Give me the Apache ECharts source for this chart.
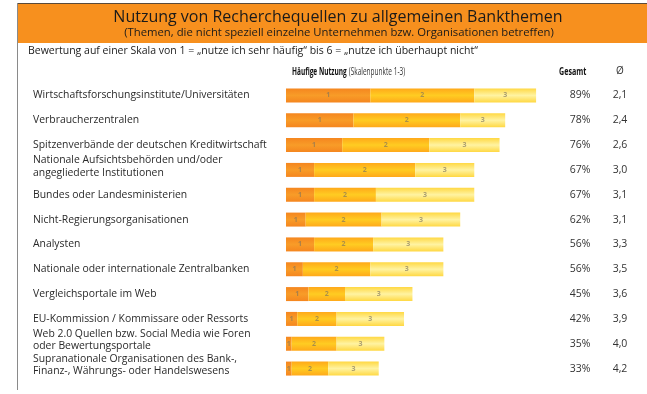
<!DOCTYPE html>
<html>
<head>
<meta charset="utf-8">
<script src="https://cdn.jsdelivr.net/npm/echarts@6/dist/echarts.min.js"></script>
<style>
  html, body { margin: 0; padding: 0; background: #fff; }
  #chart { width: 647px; height: 394px; }
</style>
</head>
<body>
<div id="chart"></div>
<script>
// Sources, top to bottom
const categories = [
  'Wirtschaftsforschungsinstitute/Universitäten',
  'Verbraucherzentralen',
  'Spitzenverbände der deutschen Kreditwirtschaft',
  'Nationale Aufsichtsbehörden und/oder\nangegliederte Institutionen',
  'Bundes oder Landesministerien',
  'Nicht-Regierungsorganisationen',
  'Analysten',
  'Nationale oder internationale Zentralbanken',
  'Vergleichsportale im Web',
  'EU-Kommission / Kommissare oder Ressorts',
  'Web 2.0 Quellen bzw. Social Media wie Foren\noder Bewertungsportale',
  'Supranationale Organisationen des Bank-,\nFinanz-, Währungs- oder Handelswesens'
];

// Share of answers (%) per scale point 1, 2 and 3
const scale1 = [30, 24, 20, 10, 10, 7, 10, 6, 8, 4, 2, 2];
const scale2 = [37, 38, 31, 36, 22, 27, 21, 24, 13, 14, 16, 13];
const scale3 = [22, 16, 25, 21, 35, 28, 25, 26, 24, 24, 17, 18];

// Totals (scale points 1-3) and mean score
const totals = ['89%', '78%', '76%', '67%', '67%', '62%', '56%', '56%', '45%', '42%', '35%', '33%'];
const means = ['2,1', '2,4', '2,6', '3,0', '3,1', '3,1', '3,3', '3,5', '3,6', '3,9', '4,0', '4,2'];

const scaleNames = ['1', '2', '3'];

const FONT = 'Open Sans';

function band(edge, mid) {
  return {
    type: 'linear', x: 0, y: 0, x2: 0, y2: 1,
    colorStops: [
      { offset: 0, color: edge },
      { offset: 0.5, color: mid },
      { offset: 1, color: edge }
    ]
  };
}

const fills = [
  band('#F5861F', '#F89C28'),
  band('#FFA91A', '#FFCC22'),
  band('#FFD843', '#FFF3A2')
];

const chart = echarts.init(document.getElementById('chart'), null, { renderer: 'canvas' });

const seriesData = [scale1, scale2, scale3];

function sideAxis(values, offset) {
  return {
    type: 'category',
    data: categories,
    inverse: true,
    position: 'right',
    offset: offset,
    axisLine: { show: false },
    axisTick: { show: false },
    axisLabel: {
      interval: 0,
      margin: 13,
      align: 'center',
      fontFamily: FONT,
      fontSize: 10.5,
      color: '#333',
      formatter: function (v, i) { return values[i]; }
    }
  };
}

chart.setOption({
  backgroundColor: '#ffffff',
  animation: false,
  textStyle: { fontFamily: FONT },
  grid: { left: 286, top: 83, width: 281, height: 298 },
  xAxis: {
    type: 'value', min: 0, max: 100, show: false
  },
  yAxis: [{
    type: 'category',
    data: categories,
    inverse: true,
    axisLine: { show: false },
    axisTick: { show: false },
    splitLine: { show: false },
    axisLabel: {
      interval: 0,
      align: 'left',
      margin: 253,
      fontFamily: FONT,
      fontSize: 10.4,
      lineHeight: 12,
      color: '#2a2a2a',
      formatter: function (v) {
        return v.indexOf('\n') >= 0 ? '{two|' + v + '}' : v;
      },
      rich: {
        two: { fontFamily: FONT, fontSize: 10.4, lineHeight: 12.5, color: '#2a2a2a', padding: [0, 0, 7, 0] }
      }
    }
  }, sideAxis(totals, 0), sideAxis(means, 40)],
  series: seriesData.map(function (d, k) {
    return {
      type: 'bar',
      name: scaleNames[k],
      stack: 'total',
      data: d,
      barWidth: 14,
      itemStyle: { color: fills[k] },
      label: {
        show: true,
        position: 'inside',
        formatter: scaleNames[k],
        fontFamily: FONT,
        fontSize: 7,
        fontWeight: 'bold',
        color: 'rgba(125,115,95,0.65)'
      }
    };
  }),
  graphic: [
    // banner
    { type: 'rect', shape: { x: 17, y: 4, width: 640, height: 39 }, style: { fill: '#F7901E' }, silent: true },
    { type: 'line', shape: { x1: 17, y1: 3.5, x2: 647, y2: 3.5 }, style: { stroke: '#5a4a3a', lineWidth: 1 } },
    { type: 'line', shape: { x1: 17.5, y1: 3, x2: 17.5, y2: 390 }, style: { stroke: '#8a8a8a', lineWidth: 1 } },
    {
      type: 'text', x: 338, y: 17,
      style: { text: 'Nutzung von Recherchequellen zu allgemeinen Bankthemen', fill: '#1a1a1a', font: '16px "Open Sans"', align: 'center', verticalAlign: 'middle' }
    },
    {
      type: 'text', x: 339, y: 33,
      style: { text: '(Themen, die nicht speziell einzelne Unternehmen bzw. Organisationen betreffen)', fill: '#1a1a1a', font: '11.3px "Open Sans"', align: 'center', verticalAlign: 'middle' }
    },
    {
      type: 'text', left: 28, top: 46,
      style: { text: 'Bewertung auf einer Skala von 1 = \u201Enutze ich sehr h\u00E4ufig\u201C bis 6 = \u201Enutze ich \u00FCberhaupt nicht\u201C', fill: '#1a1a1a', font: '10.5px "Open Sans"' }
    },
    {
      type: 'text', x: 292, y: 72, scaleX: 0.62,
      style: {
        text: '{h|Häufige Nutzung} {s|(Skalenpunkte 1-3)}',
        verticalAlign: 'middle',
        rich: {
          h: { font: 'bold 10.5px "Open Sans"', fill: '#111' },
          s: { font: '10.5px "Open Sans"', fill: '#333' }
        }
      }
    },
    { type: 'text', x: 559, y: 72, scaleX: 0.68, style: { text: 'Gesamt', font: 'bold 10.5px "Open Sans"', fill: '#111', verticalAlign: 'middle' } },
    { type: 'text', x: 620, y: 71, style: { text: 'Ø', font: '10px "Open Sans"', fill: '#333', align: 'center', verticalAlign: 'middle' } }
  ]
});
</script>
</body>
</html>
